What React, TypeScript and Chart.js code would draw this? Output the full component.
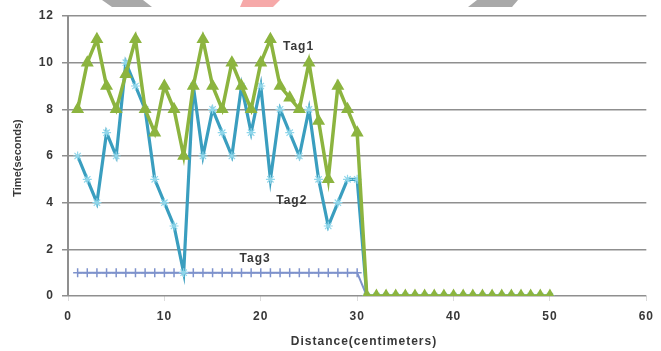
import React, { useEffect, useRef } from "react";
import { Chart, registerables } from "chart.js";

Chart.register(...registerables);

// Distance in centimeters at which each reading was taken
const distance = [
  1, 2, 3, 4, 5, 6, 7, 8, 9, 10, 11, 12, 13, 14, 15, 16, 17, 18, 19, 20, 21, 22, 23, 24, 25,
  26, 27, 28, 29, 30, 31, 32, 33, 34, 35, 36, 37, 38, 39, 40, 41, 42, 43, 44, 45, 46, 47, 48, 49, 50,
];

// Time in seconds for each tag
const tag1Time = [
  8, 10, 11, 9, 8, 9.5, 11, 8, 7, 9, 8, 6, 9, 11, 9, 8, 10, 9, 8, 10, 11, 9, 8.5, 8, 10,
  7.5, 5, 9, 8, 7, 0, 0, 0, 0, 0, 0, 0, 0, 0, 0, 0, 0, 0, 0, 0, 0, 0, 0, 0, 0,
];
const tag2Time = [
  6, 5, 4, 7, 6, 10, 9, 8, 5, 4, 3, 1, 9, 6, 8, 7, 6, 9, 7, 9, 5, 8, 7, 6, 8,
  5, 3, 4, 5, 5, 0, 0, 0, 0, 0, 0, 0, 0, 0, 0, 0, 0, 0, 0, 0, 0, 0, 0, 0, 0,
];
const tag3Time = [
  1, 1, 1, 1, 1, 1, 1, 1, 1, 1, 1, 1, 1, 1, 1, 1, 1, 1, 1, 1, 1, 1, 1, 1, 1,
  1, 1, 1, 1, 1, 0, 0, 0, 0, 0, 0, 0, 0, 0, 0, 0, 0, 0, 0, 0, 0, 0, 0, 0, 0,
];

const xTicks = [0, 10, 20, 30, 40, 50, 60];
const yTicks = [0, 2, 4, 6, 8, 10, 12];

const seriesNames = ["Tag1", "Tag2", "Tag3"];
// Where each series name sits, in data units (distance, time)
const nameAtDistance = [22.3, 21.6, 17.8];
const nameAtTime = [10.7, 4.1, 1.6];

const GREEN = "#8cb43f";
const TEAL = "#3a9ebf";
const TEAL_MARK = "#8fd6ea";
const BLUE = "#7e92cc";
const GRID = "#8f8f8f";
const TEXT = "#383838";
const FAMILY = "'Liberation Sans', Arial, sans-serif";

const toPoints = (ys: number[]) => ys.map((y, i) => ({ x: distance[i], y }));

// Slanted banner blocks along the top edge; also sets the text spacing
const bannerPlugin = {
  id: "banner",
  beforeDraw(chart: any) {
    const ctx = chart.ctx;
    (ctx as any).letterSpacing = "1px";
    const shapes: [string, number[][]][] = [
      ["#a9a9a9", [[102, 0], [143, 0], [152, 7], [112, 7]]],
      ["#f6a9a9", [[243, 0], [280, 0], [273, 7], [240, 7]]],
      ["#a9a9a9", [[477, 0], [518, 0], [512, 7], [468, 7]]],
    ];
    ctx.save();
    for (const [color, pts] of shapes) {
      ctx.fillStyle = color;
      ctx.beginPath();
      pts.forEach(([px, py], i) => (i ? ctx.lineTo(px, py) : ctx.moveTo(px, py)));
      ctx.closePath();
      ctx.fill();
    }
    ctx.restore();
  },
};

// Series names written next to their lines
const seriesNamePlugin = {
  id: "seriesNames",
  afterDatasetsDraw(chart: any) {
    const { ctx, scales } = chart;
    ctx.save();
    ctx.font = `bold 12px ${FAMILY}`;
    ctx.fillStyle = TEXT;
    ctx.textAlign = "left";
    ctx.textBaseline = "middle";
    seriesNames.forEach((name, i) => {
      ctx.fillText(
        name,
        scales.x.getPixelForValue(nameAtDistance[i]),
        scales.y.getPixelForValue(nameAtTime[i])
      );
    });
    ctx.restore();
  },
};

// Axis titles
const axisTitlePlugin = {
  id: "axisTitles",
  afterDraw(chart: any) {
    const ctx = chart.ctx;
    ctx.save();
    ctx.font = `bold 12px ${FAMILY}`;
    ctx.fillStyle = TEXT;
    ctx.textAlign = "center";
    ctx.textBaseline = "middle";
    ctx.fillText("Distance(centimeters)", 364, 342);
    ctx.restore();

    ctx.save();
    (ctx as any).letterSpacing = "0px";
    ctx.font = `bold 11px ${FAMILY}`;
    ctx.fillStyle = TEXT;
    ctx.textAlign = "center";
    ctx.textBaseline = "middle";
    ctx.translate(18, 158);
    ctx.rotate(-Math.PI / 2);
    ctx.fillText("Time(seconds)", 0, 0);
    ctx.restore();
  },
};

export default function App() {
  const canvasRef = useRef<HTMLCanvasElement | null>(null);

  useEffect(() => {
    if (!canvasRef.current) return;
    const tickFont = { family: FAMILY, size: 12, weight: "bold" as const };

    const chart = new Chart(canvasRef.current, {
      type: "line",
      data: {
        datasets: [
          {
            label: seriesNames[0],
            data: toPoints(tag1Time),
            borderColor: GREEN,
            backgroundColor: GREEN,
            borderWidth: 3.5,
            pointStyle: "triangle",
            pointRadius: 4,
            pointBorderColor: GREEN,
            pointBackgroundColor: GREEN,
            tension: 0,
          },
          {
            label: seriesNames[1],
            data: toPoints(tag2Time),
            borderColor: TEAL,
            backgroundColor: TEAL,
            borderWidth: 3.2,
            pointStyle: "star",
            pointRadius: 4.5,
            pointBorderWidth: 1.2,
            pointBorderColor: TEAL_MARK,
            pointBackgroundColor: TEAL_MARK,
            tension: 0,
          },
          {
            label: seriesNames[2],
            data: toPoints(tag3Time),
            borderColor: BLUE,
            backgroundColor: BLUE,
            borderWidth: 2,
            pointStyle: "cross",
            pointRadius: 4.5,
            pointBorderWidth: 1.5,
            pointBorderColor: BLUE,
            tension: 0,
          },
        ],
      },
      options: {
        responsive: false,
        animation: false,
        events: [],
        layout: { padding: { top: 16, right: 8, left: 0, bottom: 0 } },
        plugins: {
          legend: { display: false },
          tooltip: { enabled: false },
        },
        scales: {
          x: {
            type: "linear",
            min: 0,
            max: 60,
            afterBuildTicks: (scale: any) => {
              scale.ticks = xTicks.map((v) => ({ value: v }));
            },
            afterFit: (scale: any) => {
              scale.height = 55;
            },
            grid: {
              display: true,
              drawOnChartArea: false,
              drawTicks: true,
              tickLength: 5,
              color: "#dcdcdc",
            },
            border: { display: false },
            ticks: {
              padding: 8,
              color: TEXT,
              font: tickFont,
              maxRotation: 0,
            },
          },
          y: {
            min: 0,
            max: 12,
            afterBuildTicks: (scale: any) => {
              scale.ticks = yTicks.map((v) => ({ value: v }));
            },
            afterFit: (scale: any) => {
              scale.width = 68;
            },
            grid: {
              color: GRID,
              lineWidth: 1.5,
              drawTicks: true,
              tickLength: 6,
            },
            border: { display: true, color: GRID, width: 2 },
            ticks: {
              padding: 8,
              color: TEXT,
              font: tickFont,
            },
          },
        },
      },
      plugins: [bannerPlugin, seriesNamePlugin, axisTitlePlugin],
    });

    return () => chart.destroy();
  }, []);

  return (
    <div style={{ position: "absolute", left: 0, top: 0, width: 661, height: 351, background: "#ffffff" }}>
      <canvas ref={canvasRef} width={661} height={351} />
    </div>
  );
}
